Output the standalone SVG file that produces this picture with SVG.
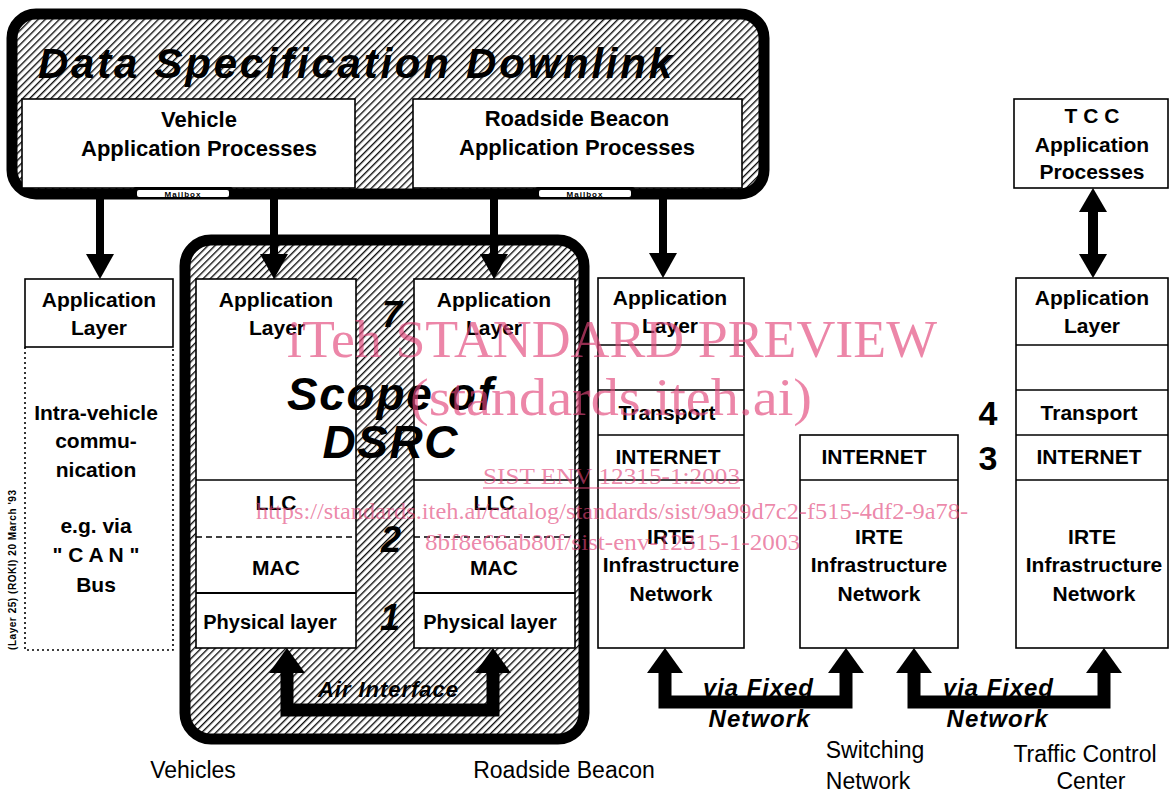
<svg xmlns="http://www.w3.org/2000/svg" width="1170" height="792" viewBox="0 0 1170 792">
<defs>
<pattern id="hatch" patternUnits="userSpaceOnUse" width="5" height="5" patternTransform="rotate(45)">
<rect width="5" height="5" fill="#fff"/>
<line x1="0.7" y1="0" x2="0.7" y2="5" stroke="#000" stroke-width="1.3"/>
</pattern>
<marker id="hd" viewBox="0 0 25 28" markerUnits="userSpaceOnUse" markerWidth="25" markerHeight="28" refX="0" refY="14" orient="auto-start-reverse">
<path d="M0,0 L25,14 L0,28 Z" fill="#000"/>
</marker>
<marker id="hdL" viewBox="0 0 25 36" markerUnits="userSpaceOnUse" markerWidth="25" markerHeight="36" refX="0" refY="18" orient="auto-start-reverse">
<path d="M0,0 L25,18 L0,36 Z" fill="#000"/>
</marker>
<marker id="hdT" viewBox="0 0 24 28" markerUnits="userSpaceOnUse" markerWidth="24" markerHeight="28" refX="0" refY="14" orient="auto-start-reverse">
<path d="M0,0 L24,14 L0,28 Z" fill="#000"/>
</marker>
</defs>
<style>
text{font-family:"Liberation Sans",Arial,Helvetica,sans-serif;fill:#000}
.b{font-weight:bold;font-size:21px;text-anchor:middle}
.b22{font-weight:bold;font-size:22px;text-anchor:middle}
.bi{font-weight:bold;font-style:italic;text-anchor:middle}
.r{font-size:23px;text-anchor:middle}
.box{fill:#fff;stroke:#000;stroke-width:1.6}
.ln{stroke:#000;stroke-width:1.6;fill:none}
.dash{stroke:#000;stroke-width:1.6;stroke-dasharray:6 4;fill:none}
.frame{fill:url(#hatch);stroke:#000;stroke-width:11}
.ar{stroke:#000;stroke-width:8;fill:none}
.arL{stroke:#000;stroke-width:13;fill:none;stroke-linejoin:miter}
.wm{font-family:"Liberation Serif","Times New Roman",serif;fill:#e2457a;fill-opacity:0.65}
</style>

<g id="dsd-frame">
<rect class="frame" x="12" y="14" width="752" height="180" rx="24"/>
<text x="38" y="78" font-size="42" font-weight="bold" font-style="italic" textLength="634" lengthAdjust="spacing">Data Specification Downlink</text>
</g>

<g id="vehicle-ap">
<rect class="box" x="22" y="99" width="333" height="89"/>
<text class="b22" x="199" y="127">Vehicle</text>
<text class="b22" x="199" y="156">Application Processes</text>
<rect x="133" y="187" width="100" height="12" rx="3" fill="#000"/>
<rect x="137" y="190" width="92" height="7" rx="2" fill="#fff"/>
<text x="183" y="197" font-size="8" font-weight="bold" text-anchor="middle" letter-spacing="1">Mailbox</text>
</g>

<g id="roadside-ap">
<rect class="box" x="413" y="99" width="329" height="89"/>
<text class="b22" x="577" y="126">Roadside Beacon</text>
<text class="b22" x="577" y="155">Application Processes</text>
<rect x="535" y="187" width="100" height="12" rx="3" fill="#000"/>
<rect x="539" y="190" width="92" height="7" rx="2" fill="#fff"/>
<text x="585" y="197" font-size="8" font-weight="bold" text-anchor="middle" letter-spacing="1">Mailbox</text>
</g>

<g id="tcc-ap">
<rect class="box" x="1014" y="99" width="154" height="89"/>
<text class="b" x="1092" y="123">T C C</text>
<text class="b" x="1092" y="152">Application</text>
<text class="b" x="1092" y="179">Processes</text>
</g>

<g id="vehicle-intra">
<rect class="box" x="25" y="279" width="148" height="68"/>
<text class="b" x="99" y="307">Application</text>
<text class="b" x="99" y="335">Layer</text>
<path d="M25,347 L25,650 L173,650 L173,347" fill="none" stroke="#000" stroke-width="1.6" stroke-dasharray="2 3"/>
<text class="b" x="96" y="420">Intra-vehicle</text>
<text class="b" x="96" y="448">commu-</text>
<text class="b" x="96" y="477">nication</text>
<text class="b" x="96" y="533">e.g. via</text>
<text class="b" x="96" y="562">&quot; C A N &quot;</text>
<text class="b" x="96" y="592">Bus</text>
<text x="16" y="570" font-size="10" font-weight="bold" text-anchor="middle" transform="rotate(-90 16 570)" textLength="160" lengthAdjust="spacing">(Layer 25)  (ROKI)  20 March '93</text>
</g>

<g id="dsrc-scope">
<rect class="frame" x="185" y="240" width="399" height="499" rx="26"/>
</g>

<g id="vehicle-stack">
<rect class="box" x="196" y="279" width="160" height="369"/>
<line class="ln" x1="196" y1="480" x2="356" y2="480"/>
<line class="dash" x1="196" y1="537" x2="356" y2="537"/>
<line class="ln" x1="196" y1="593" x2="356" y2="593" style="stroke-width:2.2"/>
<text class="b" x="276" y="307">Application</text>
<text class="b" x="277" y="335">Layer</text>
<text class="b" x="276" y="510">LLC</text>
<text class="b" x="276" y="575">MAC</text>
<text class="b" x="270" y="629" style="font-size:20px">Physical layer</text>
</g>

<g id="beacon-stack">
<rect class="box" x="414" y="279" width="161" height="369"/>
<line class="ln" x1="414" y1="480" x2="575" y2="480"/>
<line class="dash" x1="414" y1="537" x2="575" y2="537"/>
<line class="ln" x1="414" y1="593" x2="575" y2="593" style="stroke-width:2.2"/>
<text class="b" x="494" y="307">Application</text>
<text class="b" x="494" y="335">Layer</text>
<text class="b" x="494" y="510">LLC</text>
<text class="b" x="494" y="575">MAC</text>
<text class="b" x="490" y="629" style="font-size:20px">Physical layer</text>
</g>

<g id="layer-numbers">
<text class="bi" x="392" y="327" style="font-size:36px">7</text>
<text class="bi" x="391" y="552" style="font-size:36px">2</text>
<text class="bi" x="390" y="630" style="font-size:36px">1</text>
<text class="b" x="988" y="425" style="font-size:34px">4</text>
<text class="b" x="988" y="470" style="font-size:34px">3</text>
</g>

<g id="scope-label">
<text class="bi" x="390" y="410" style="font-size:46px" textLength="206" lengthAdjust="spacing">Scope of</text>
<text class="bi" x="390" y="458" style="font-size:46px" textLength="135" lengthAdjust="spacing">DSRC</text>
</g>

<g id="beacon-infra">
<rect class="box" x="598" y="278" width="146" height="370"/>
<line class="ln" x1="598" y1="345" x2="744" y2="345"/>
<line class="ln" x1="598" y1="390" x2="744" y2="390"/>
<line class="ln" x1="598" y1="435" x2="744" y2="435"/>
<line class="ln" x1="598" y1="480" x2="744" y2="480"/>
<text class="b" x="670" y="305">Application</text>
<text class="b" x="670" y="333">Layer</text>
<text class="b" x="667" y="420">Transport</text>
<text class="b" x="668" y="464">INTERNET</text>
<text class="b" x="671" y="544">IRTE</text>
<text class="b" x="671" y="572">Infrastructure</text>
<text class="b" x="671" y="601">Network</text>
</g>

<g id="switching-network">
<rect class="box" x="800" y="435" width="158" height="213"/>
<line class="ln" x1="800" y1="480" x2="958" y2="480"/>
<text class="b" x="874" y="464">INTERNET</text>
<text class="b" x="879" y="544">IRTE</text>
<text class="b" x="879" y="572">Infrastructure</text>
<text class="b" x="879" y="601">Network</text>
</g>

<g id="tcc-stack">
<rect class="box" x="1016" y="278" width="152" height="370"/>
<line class="ln" x1="1016" y1="345" x2="1168" y2="345"/>
<line class="ln" x1="1016" y1="390" x2="1168" y2="390"/>
<line class="ln" x1="1016" y1="435" x2="1168" y2="435"/>
<line class="ln" x1="1016" y1="480" x2="1168" y2="480"/>
<text class="b" x="1092" y="305">Application</text>
<text class="b" x="1092" y="333">Layer</text>
<text class="b" x="1089" y="420">Transport</text>
<text class="b" x="1089" y="464">INTERNET</text>
<text class="b" x="1092" y="544">IRTE</text>
<text class="b" x="1094" y="572">Infrastructure</text>
<text class="b" x="1094" y="601">Network</text>
</g>

<g id="connectors">
<path class="ar" d="M100,199 L100,254" marker-end="url(#hd)"/>
<path class="ar" d="M274,199 L274,254" marker-end="url(#hd)"/>
<path class="ar" d="M494,199 L494,254" marker-end="url(#hd)"/>
<path class="ar" d="M663,199 L663,253" marker-end="url(#hd)"/>
<path class="ar" d="M1093,212 L1093,254" style="stroke-width:10" marker-start="url(#hdT)" marker-end="url(#hdT)"/>
<path class="arL" d="M287,673 L287,710 L493,710 L493,673" marker-start="url(#hdL)" marker-end="url(#hdL)"/>
<path class="arL" d="M665,673 L665,702 L846,702 L846,673" marker-start="url(#hdL)" marker-end="url(#hdL)"/>
<path class="arL" d="M914,673 L914,702 L1104,702 L1104,673" marker-start="url(#hdL)" marker-end="url(#hdL)"/>
<text class="bi" x="388" y="697" style="font-size:22px" textLength="140" lengthAdjust="spacing">Air Interface</text>
<text class="bi" x="758" y="696" style="font-size:24px" textLength="110" lengthAdjust="spacing">via Fixed</text>
<text class="bi" x="759" y="727" style="font-size:24px" textLength="101" lengthAdjust="spacing">Network</text>
<text class="bi" x="998" y="696" style="font-size:24px" textLength="110" lengthAdjust="spacing">via Fixed</text>
<text class="bi" x="997" y="727" style="font-size:24px" textLength="101" lengthAdjust="spacing">Network</text>
</g>

<g id="site-labels">
<text class="r" x="193" y="778">Vehicles</text>
<text class="r" x="564" y="778">Roadside Beacon</text>
<text class="r" x="875" y="758">Switching</text>
<text class="r" x="868" y="789">Network</text>
<text class="r" x="1085" y="762">Traffic Control</text>
<text class="r" x="1091" y="789">Center</text>
</g>

<g id="watermark">
<text class="wm" x="287" y="357" font-size="53" textLength="650" lengthAdjust="spacingAndGlyphs">iTeh STANDARD PREVIEW</text>
<text class="wm" x="410" y="415" font-size="53" textLength="402" lengthAdjust="spacingAndGlyphs">(standards.iteh.ai)</text>
<text class="wm" x="483" y="484" font-size="24" textLength="257" lengthAdjust="spacingAndGlyphs">SIST ENV 12315-1:2003</text>
<line x1="483" y1="488" x2="740" y2="488" stroke="#e2457a" stroke-opacity="0.65" stroke-width="1.5"/>
<text class="wm" x="256" y="519" font-size="24" textLength="712" lengthAdjust="spacingAndGlyphs">https://standards.iteh.ai/catalog/standards/sist/9a99d7c2-f515-4df2-9a78-</text>
<text class="wm" x="425" y="550" font-size="24" textLength="375" lengthAdjust="spacingAndGlyphs">8bf8e66ab80f/sist-env-12315-1-2003</text>
</g>
</svg>
